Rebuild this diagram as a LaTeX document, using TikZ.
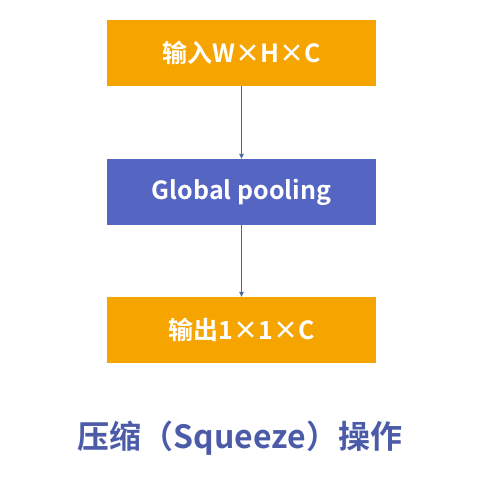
\documentclass[tikz,border=0pt]{standalone}
\usepackage{fontspec}
\setmainfont{Noto Sans CJK SC}[BoldFont={* Bold}]
\newfontfamily\cjkbold{Noto Sans CJK SC Bold}
\usetikzlibrary{arrows.meta}
\definecolor{boxorange}{HTML}{F6A400}
\definecolor{boxblue}{HTML}{5565C2}
\definecolor{titleblue}{HTML}{4B5BA8}
\definecolor{linkblue}{HTML}{4A6A9E}
\begin{document}
\begin{tikzpicture}[x=1pt,y=-1pt,
  stagebox/.style={minimum width=269pt,minimum height=66pt,inner sep=0pt,
    text=white,font=\cjkbold\fontsize{25}{28}\selectfont},
  link/.style={draw=linkblue,line width=0.7pt,-{Triangle[length=5pt,width=4.5pt]}}]
  \useasboundingbox (0,0) rectangle (483,477);
  \fill[white] (0,0) rectangle (483,477);
  \node[stagebox,fill=boxorange] (input) at (241.5,53) {输入W×H×C};
  \node[stagebox,fill=boxblue] (pool) at (241.5,192) {Global pooling};
  \node[stagebox,fill=boxorange] (output) at (241.5,330) {输出1×1×C};
  \draw[link] (input) -- (pool);
  \draw[link] (pool) -- (output);
  \node[text=titleblue,font=\cjkbold\fontsize{32}{36}\selectfont] (title) at (240,438) {压缩（Squeeze）操作};
\end{tikzpicture}
\end{document}
